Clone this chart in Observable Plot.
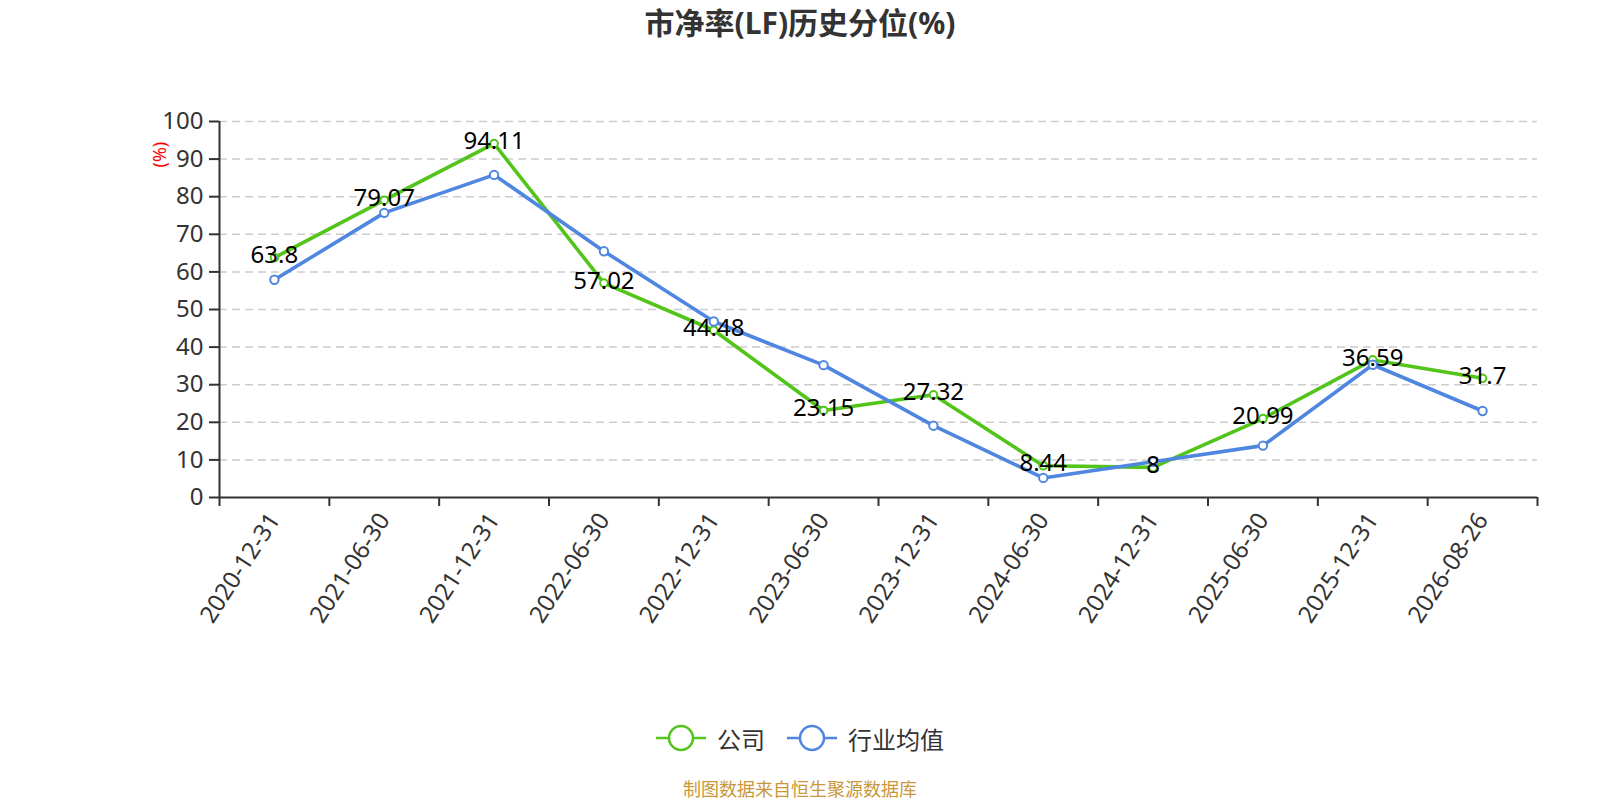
<!DOCTYPE html>
<html><head><meta charset="utf-8">
<script src="https://cdn.jsdelivr.net/npm/d3@7"></script>
<script src="https://cdn.jsdelivr.net/npm/@observablehq/plot@0.6"></script>
<style>
body{margin:0;background:#fff;font-family:"Noto Sans","Noto Sans CJK SC",sans-serif;width:1600px;overflow:hidden;}
#title{height:46px;line-height:46px;text-align:center;font-size:30px;font-weight:bold;color:#333;font-family:"Noto Sans","Noto Sans CJK SC",sans-serif;}
#chart{height:654px;}
#legend{height:76px;display:flex;justify-content:center;align-items:center;font-size:24px;color:#333;}
.item{display:flex;align-items:center;margin:0 11px;}
.item svg{margin-right:11px;}
#caption{height:26px;line-height:26px;text-align:center;font-size:18px;color:#c9973a;}
</style></head><body>
<div id="title">市净率(LF)历史分位(%)</div>
<div id="chart"></div>
<div id="legend"></div>
<div id="caption">制图数据来自恒生聚源数据库</div>
<script>
const dates = ["2020-12-31","2021-06-30","2021-12-31","2022-06-30","2022-12-31","2023-06-30","2023-12-31","2024-06-30","2024-12-31","2025-06-30","2025-12-31","2026-08-26"];
const company = [63.8, 79.07, 94.11, 57.02, 44.48, 23.15, 27.32, 8.44, 8, 20.99, 36.59, 31.7];
const industry = [57.9, 75.7, 85.8, 65.5, 46.8, 35.2, 19.1, 5.2, 9.5, 13.8, 35.3, 23.0];
const yTicks = [0,10,20,30,40,50,60,70,80,90,100];
const seriesNames = ["公司","行业均值"];
const seriesColors = ["#52c41a","#4f86e0"];

const rows = [
  ...company.map((v,i)=>({i, v, s: seriesNames[0]})),
  ...industry.map((v,i)=>({i, v, s: seriesNames[1]}))
];
const compRows = rows.filter(d=>d.s===seriesNames[0]);
const indRows = rows.filter(d=>d.s===seriesNames[1]);
const boundaries = d3.range(-0.5, dates.length, 1);
const centers = d3.range(dates.length);

const chart = Plot.plot({
  width: 1600,
  height: 654,
  marginLeft: 219,
  marginRight: 63,
  marginTop: 75,
  marginBottom: 203,
  style: {fontFamily: '"Noto Sans","Noto Sans CJK SC",sans-serif', background: "white", overflow: "visible"},
  x: {type: "linear", domain: [-0.5, dates.length - 0.5]},
  y: {domain: [0, 100]},
  marks: [
    Plot.ruleY(yTicks.filter(d=>d>0), {stroke: "#cccccc", strokeWidth: 1.5, strokeDasharray: "8,5"}),
    Plot.axisY({ticks: yTicks, tickSize: 10, tickPadding: 6, fontSize: 24, color: "#333", strokeWidth: 2, label: null}),
    Plot.axisX({ticks: boundaries, tickSize: 9, tickFormat: () => "", color: "#333", strokeWidth: 2, label: null}),
    Plot.axisX({ticks: centers, tickSize: 0, tickPadding: 18, tickRotate: -57, tickFormat: i => dates[i], fontSize: 24, color: "#333", label: null}),
    Plot.ruleX([-0.5], {stroke: "#333", strokeWidth: 2}),
    Plot.ruleY([0], {stroke: "#333", strokeWidth: 2}),
    Plot.text(["(%)"], {frameAnchor: "top-left", dx: -66, dy: 46, rotate: -90, fill: "red", fontSize: 18}),
    Plot.line(compRows, {x: "i", y: "v", stroke: seriesColors[0], strokeWidth: 3.6}),
    Plot.line(indRows, {x: "i", y: "v", stroke: seriesColors[1], strokeWidth: 3.6}),
    Plot.dot(compRows, {x: "i", y: "v", r: 3.8, fill: "white", stroke: seriesColors[0], strokeWidth: 2}),
    Plot.dot(indRows, {x: "i", y: "v", r: 4.2, fill: "white", stroke: seriesColors[1], strokeWidth: 2}),
    Plot.text(compRows, {x: "i", y: "v", text: d => String(d.v), dy: -2, fontSize: 24, fill: "#000"})
  ]
});
document.getElementById("chart").appendChild(chart);

const legend = document.getElementById("legend");
seriesNames.forEach((name, k) => {
  const item = document.createElement("div");
  item.className = "item";
  item.innerHTML = `<svg width="50" height="28"><line x1="0" y1="14" x2="50" y2="14" stroke="${seriesColors[k]}" stroke-width="2.5"/><circle cx="25" cy="14" r="12" fill="white" stroke="${seriesColors[k]}" stroke-width="2.5"/></svg><span>${name}</span>`;
  legend.appendChild(item);
});
</script>
</body></html>
